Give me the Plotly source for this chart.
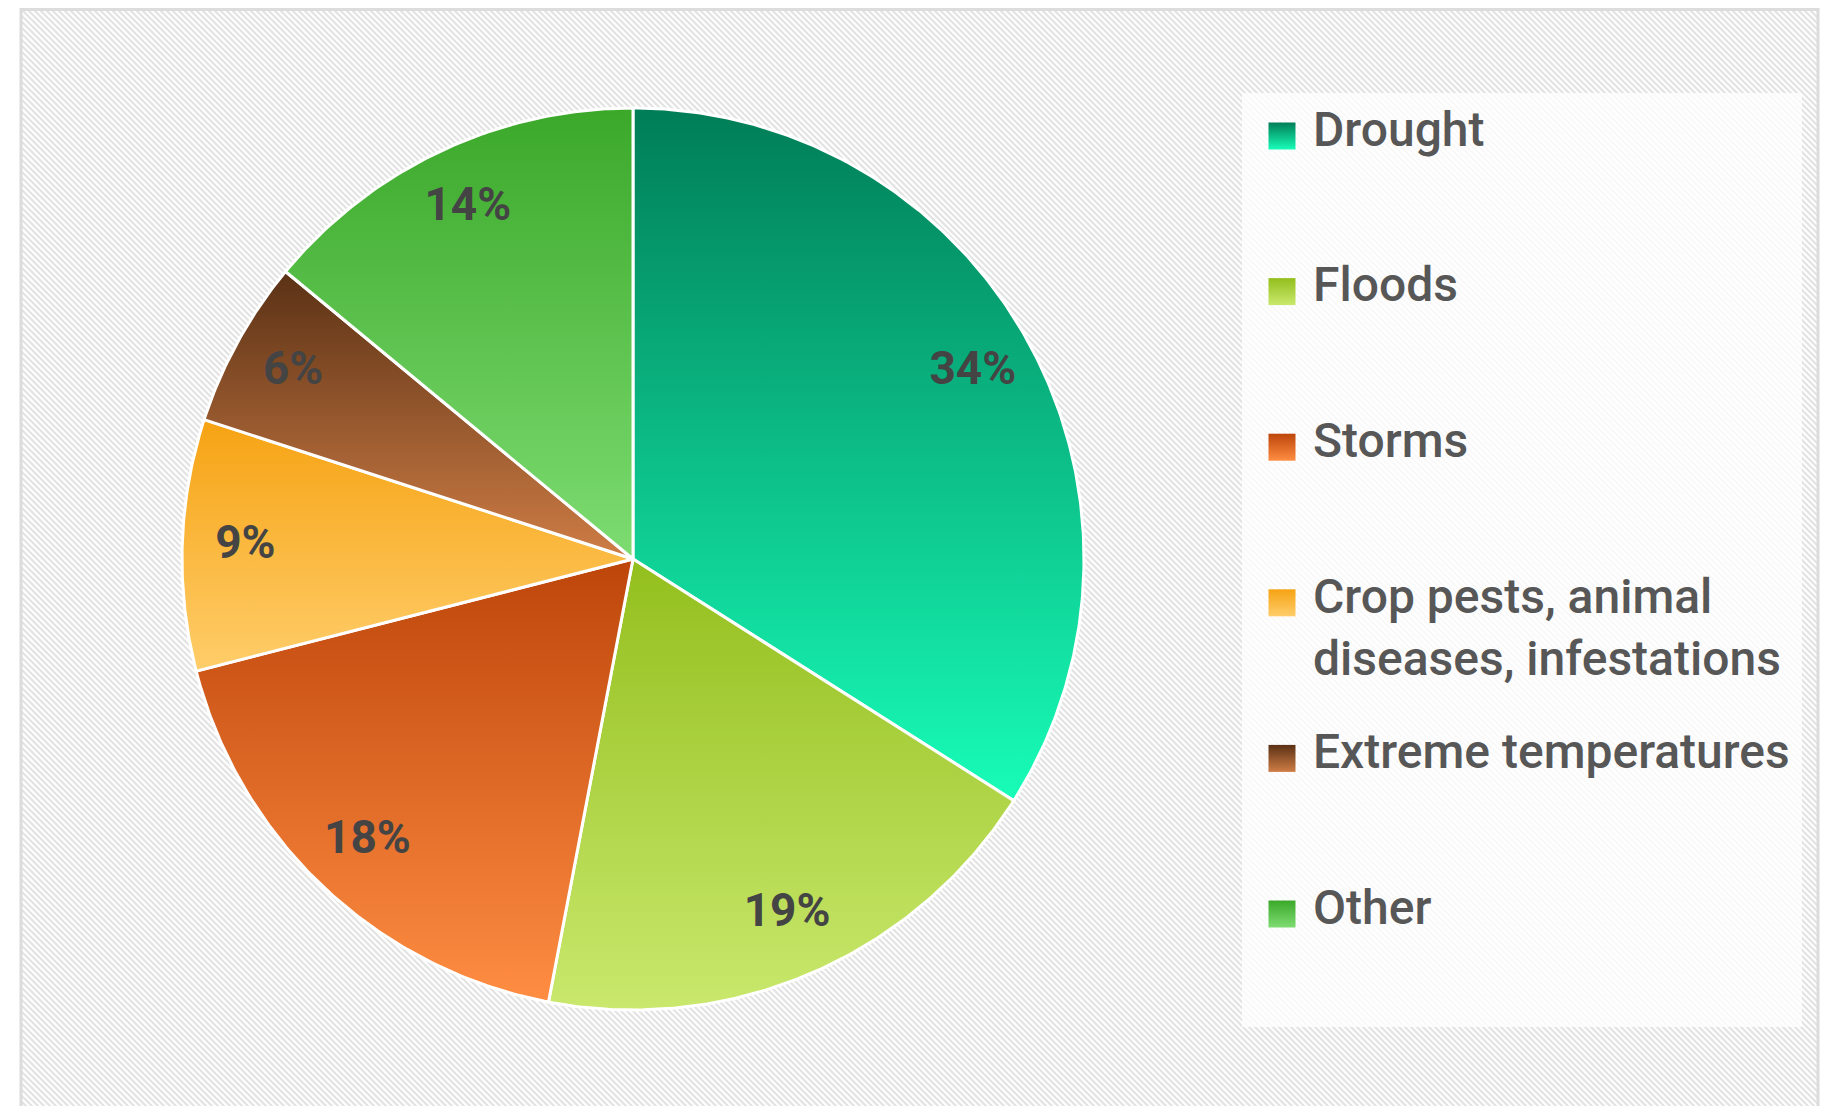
import base64
import textwrap

import numpy as np
import plotly.graph_objects as go

# ---- data -------------------------------------------------------------
categories = [
    "Drought",
    "Floods",
    "Storms",
    "Crop pests, animal diseases, infestations",
    "Extreme temperatures",
    "Other",
]
shares = [34, 19, 18, 9, 6, 14]  # percent of total

# vertical gradient per slice: (top colour, bottom colour)
top_colors = ["#007d56", "#93bf1d", "#bd450a", "#f6a313", "#5a3115", "#3ba82a"]
bottom_colors = ["#18fdb8", "#c9e86d", "#ff8d42", "#ffcd6a", "#cf7d45", "#7edc72"]

# ---- canvas geometry (pixels) ------------------------------------------
W, H = 1829, 1106
CX, CY, R = 633, 559, 451          # pie centre and radius
LABEL_RADIUS = 0.86                # label distance as a fraction of R

# axes in "radius units" so the unit circle lands on the pie position
x_range = [-CX / R, (W - CX) / R]
y_range = [-(H - CY) / R, CY / R]

fig = go.Figure()

# ---- pie slices, clockwise from 12 o'clock --------------------------
total = float(sum(shares))
bounds = np.concatenate([[0.0], np.cumsum(shares)]) / total * 2 * np.pi
label_x, label_y = [], []
for i, name in enumerate(categories):
    a0, a1 = bounds[i], bounds[i + 1]
    n = max(8, int(np.degrees(a1 - a0) * 2))
    theta = np.linspace(a0, a1, n)
    xs = np.concatenate([[0.0], np.sin(theta), [0.0]])
    ys = np.concatenate([[0.0], np.cos(theta), [0.0]])
    fig.add_trace(go.Scatter(
        x=xs, y=ys, mode="lines", fill="toself",
        line=dict(color="white", width=3),
        fillgradient=dict(
            type="vertical",
            colorscale=[[0, bottom_colors[i]], [1, top_colors[i]]],
            start=float(ys.min()), stop=float(ys.max()),
        ),
        name=name, showlegend=False, hoverinfo="skip",
    ))
    mid = (a0 + a1) / 2
    label_x.append(LABEL_RADIUS * np.sin(mid))
    label_y.append(LABEL_RADIUS * np.cos(mid))

fig.add_trace(go.Scatter(
    x=label_x, y=label_y, mode="text",
    text=[f"{round(v / total * 100)}%" for v in shares],
    textposition="middle center",
    textfont=dict(family="Roboto", size=46, color="#444444", weight=700),
    showlegend=False, hoverinfo="skip",
))

# ---- legend (pixel coordinates on an overlay axis pair) ----------------
LEG_X0, LEG_Y0, LEG_X1, LEG_Y1 = 1242, 93, 1802, 1027
SWATCH_X, TEXT_X = 1282, 1311
FIRST_Y, STEP = 136, 155.6
FONT_SIZE = 48
LINE_H = FONT_SIZE * 1.3

swatch_y = [FIRST_Y + i * STEP for i in range(len(categories))]
fig.add_trace(go.Scatter(
    x=[SWATCH_X] * len(categories), y=swatch_y,
    xaxis="x2", yaxis="y2", mode="markers",
    marker=dict(
        symbol="square", size=27, color=top_colors,
        gradient=dict(type="vertical", color=bottom_colors),
        line=dict(width=0),
    ),
    showlegend=False, hoverinfo="skip",
))

annotations = []
for name, sy in zip(categories, swatch_y):
    lines = textwrap.wrap(name, 22)
    annotations.append(dict(
        x=TEXT_X, y=sy - 7 + (len(lines) - 1) * LINE_H / 2,
        xref="x2", yref="y2", xanchor="left", yanchor="middle",
        text="<br>".join(lines), showarrow=False, align="left",
        font=dict(family="Roboto", size=FONT_SIZE, color="#575757", weight=500),
    ))

# ---- hatched backdrop ---------------------------------------------------
svg = f"""<svg xmlns='http://www.w3.org/2000/svg' width='{W}' height='{H}'>
<defs><pattern id='h' width='6' height='6' patternUnits='userSpaceOnUse'>
<rect width='6' height='6' fill='#ffffff'/>
<path d='M-2,-2 L8,8 M-5,1 L1,7 M1,-5 L7,1' stroke='#e3e3e3' stroke-width='2.2'/>
</pattern></defs>
<rect x='21' y='9.5' width='1797' height='{H + 20}' fill='url(#h)' stroke='#dcdcdc' stroke-width='3'/>
</svg>"""
bg_src = "data:image/svg+xml;base64," + base64.b64encode(svg.encode()).decode()

fig.update_layout(
    width=W, height=H,
    margin=dict(l=0, r=0, t=0, b=0, pad=0),
    paper_bgcolor="white", plot_bgcolor="rgba(0,0,0,0)",
    showlegend=False,
    xaxis=dict(range=x_range, visible=False, fixedrange=True, domain=[0, 1]),
    yaxis=dict(range=y_range, visible=False, fixedrange=True, domain=[0, 1]),
    xaxis2=dict(range=[0, W], visible=False, overlaying="x", fixedrange=True),
    yaxis2=dict(range=[H, 0], visible=False, overlaying="y", fixedrange=True),
    images=[dict(source=bg_src, xref="paper", yref="paper", x=0, y=1,
                 sizex=1, sizey=1, xanchor="left", yanchor="top",
                 sizing="stretch", layer="below")],
    shapes=[dict(type="rect", xref="x2", yref="y2",
                 x0=LEG_X0, x1=LEG_X1, y0=LEG_Y0, y1=LEG_Y1,
                 fillcolor="rgba(255,255,255,0.78)", line=dict(width=0),
                 layer="below")],
    annotations=annotations,
)

fig.write_html("out.html", config={"displayModeBar": False})
